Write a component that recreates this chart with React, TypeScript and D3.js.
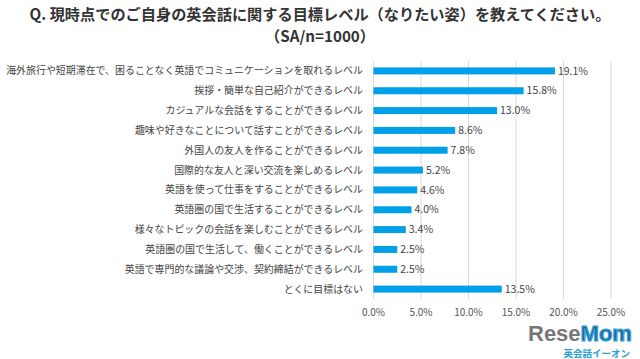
import React from "react";
import * as d3 from "d3";

const categories = [
  "海外旅行や短期滞在で、困ることなく英語でコミュニケーションを取れるレベル",
  "挨拶・簡単な自己紹介ができるレベル",
  "カジュアルな会話をすることができるレベル",
  "趣味や好きなことについて話すことができるレベル",
  "外国人の友人を作ることができるレベル",
  "国際的な友人と深い交流を楽しめるレベル",
  "英語を使って仕事をすることができるレベル",
  "英語圏の国で生活することができるレベル",
  "様々なトピックの会話を楽しむことができるレベル",
  "英語圏の国で生活して、働くことができるレベル",
  "英語で専門的な議論や交渉、契約締結ができるレベル",
  "とくに目標はない",
];
const values = [19.1, 15.8, 13.0, 8.6, 7.8, 5.2, 4.6, 4.0, 3.4, 2.5, 2.5, 13.5];
const ticks = [0, 5, 10, 15, 20, 25];

const W = 640;
const H = 359;
const left = 373.5;
const right = 611;
const top = 61;
const bottom = 299;
const font = "'Noto Sans CJK JP', 'Noto Sans', sans-serif";

export default function App() {
  const x = d3.scaleLinear().domain([0, 25]).range([left, right]);
  const y = d3.scaleBand().domain(categories).range([top, bottom]).paddingInner(0.66).paddingOuter(0.33);
  return (
    <svg width={W} height={H} style={{ position: "absolute", left: 0, top: 0, background: "#fff" }} fontFamily={font}>
      <text x={320} y={20} textAnchor="middle" fontSize={15.2} fontWeight="bold" fill="#333">
        Q. 現時点でのご自身の英会話に関する目標レベル（なりたい姿）を教えてください。
      </text>
      <text x={320} y={42} textAnchor="middle" fontSize={15.2} fontWeight="bold" fill="#333">
        （SA/n=1000）
      </text>
      {ticks.map((t) => (
        <g key={t}>
          <line x1={x(t)} x2={x(t)} y1={top} y2={bottom} stroke="#d9d9d9" strokeWidth={1} />
          <text x={x(t)} y={315.5} textAnchor="middle" fontSize={10} fill="#555">
            {t.toFixed(1)}%
          </text>
        </g>
      ))}
      {categories.map((c, i) => {
        const yc = (y(c) as number) + y.bandwidth() / 2;
        return (
          <g key={c}>
            <text x={363} y={yc} dy="0.35em" textAnchor="end" fontSize={9.95} fill="#444">
              {c}
            </text>
            <rect x={x(0)} y={yc - 3.5} width={x(values[i]) - x(0)} height={7} fill="#00a0e9" />
            <text x={x(values[i]) + 3} y={yc} dy="0.35em" fontSize={10.5} fill="#444">
              {values[i].toFixed(1)}%
            </text>
          </g>
        );
      })}
      <text x={528} y={341} fontSize={22} fontWeight="bold" fill="#777" fontFamily="'Liberation Sans', sans-serif">
        Rese<tspan fill="#3a5a8c" stroke="#29a8e0" strokeWidth={1.2}>Mom</tspan>
      </text>
      <text x={630} y={357} textAnchor="end" fontSize={9.5} fontWeight="bold" fill="#29a0d8">
        英会話イーオン
      </text>
    </svg>
  );
}
